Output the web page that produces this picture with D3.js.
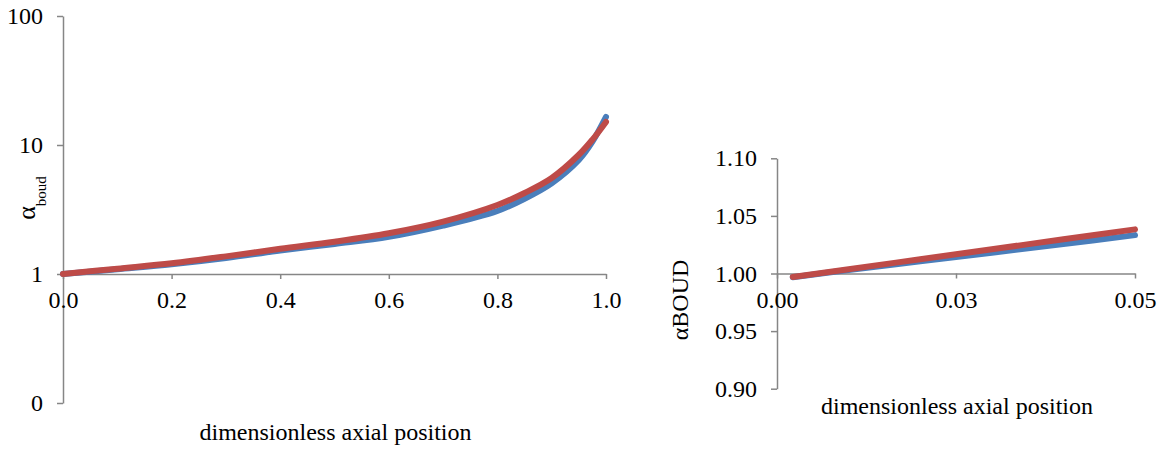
<!DOCTYPE html>
<html>
<head>
<meta charset="utf-8">
<script src="https://cdn.jsdelivr.net/npm/d3@7"></script>
<style>
  html, body { margin: 0; padding: 0; background: #fff; }
  svg { display: block; }
  text { font-family: "Liberation Serif", "Times New Roman", serif; fill: #000; }
</style>
</head>
<body>
<svg id="chart" width="1165" height="450"></svg>
<script>
// ---- full profile (log scale) ----
const fullX = [0, 0.1, 0.2, 0.3, 0.4, 0.5, 0.6, 0.7, 0.8, 0.85, 0.9, 0.95, 0.975, 1.0];
const fullBlue = [1.0, 1.09, 1.19, 1.33, 1.52, 1.71, 1.94, 2.37, 3.08, 3.83, 5.05, 7.65, 10.6, 16.5];
const fullRed  = [1.0, 1.10, 1.21, 1.37, 1.57, 1.78, 2.07, 2.55, 3.43, 4.25, 5.55, 8.4, 11.0, 15.1];
const fullXTicks = [0, 0.2, 0.4, 0.6, 0.8, 1.0];
const fullXTickLabels = ["0.0", "0.2", "0.4", "0.6", "0.8", "1.0"];
const fullYTicks = [0.1, 1, 10, 100];
const fullYTickLabels = ["0", "1", "10", "100"];

// ---- entrance region (linear scale) ----
const nearX = [0.0022, 0.01, 0.02, 0.03, 0.04, 0.05];
const nearBlue = [0.9968, 1.0030, 1.0106, 1.0180, 1.0256, 1.0333];
const nearRed  = [0.9970, 1.0037, 1.0124, 1.0210, 1.0297, 1.0383];
const nearXTicks = [0, 0.025, 0.05];
const nearXTickLabels = ["0.00", "0.03", "0.05"];
const nearYTicks = [0.90, 0.95, 1.00, 1.05, 1.10];
const nearYTickLabels = ["0.90", "0.95", "1.00", "1.05", "1.10"];

const axisColor = "#868686";
const blue = "#4A7EBB";
const red = "#BE4B48";
const lineW = 6;
const fontPx = 24;

const svg = d3.select("#chart");

function styleAxis(g) {
  g.select(".domain").attr("stroke", axisColor).attr("stroke-width", 1.5);
  g.selectAll(".tick line").attr("stroke", axisColor).attr("stroke-width", 1.5);
  g.selectAll(".tick text").style("font-size", fontPx + "px")
    .style("font-family", '"Liberation Serif", "Times New Roman", serif');
}

function drawSeries(g, xs, ys, xScale, yScale, color) {
  const pts = xs.map((x, i) => [x, ys[i]]);
  g.append("path")
    .datum(pts)
    .attr("fill", "none")
    .attr("stroke", color)
    .attr("stroke-width", lineW)
    .attr("stroke-linecap", "round")
    .attr("stroke-linejoin", "round")
    .attr("d", d3.line()
      .x(d => xScale(d[0]))
      .y(d => yScale(d[1]))
      .curve(d3.curveCatmullRom.alpha(0.5)));
}

// ================= left chart =================
{
  const x = d3.scaleLinear().domain([0, 1]).range([63, 606]);
  const y = d3.scaleLog().domain([0.1, 100]).range([403, 16]);
  const g = svg.append("g");

  const yAxis = d3.axisLeft(y)
    .tickValues(fullYTicks)
    .tickFormat((d, i) => fullYTickLabels[i])
    .tickSize(6).tickSizeOuter(0).tickPadding(14);
  g.append("g").attr("transform", `translate(${x(0)},0)`).call(yAxis).call(styleAxis);

  const xAxis = d3.axisBottom(x)
    .tickValues(fullXTicks)
    .tickFormat((d, i) => fullXTickLabels[i])
    .tickSize(5).tickSizeOuter(0).tickPadding(12);
  g.append("g").attr("transform", `translate(0,${y(1)})`).call(xAxis).call(styleAxis);

  drawSeries(g, fullX, fullBlue, x, y, blue);
  drawSeries(g, fullX, fullRed, x, y, red);

  g.append("text")
    .attr("x", (x(0) + x(1)) / 2 + 1).attr("y", 440)
    .attr("text-anchor", "middle")
    .style("font-size", fontPx + "px")
    .text("dimensionless axial position");

  const yt = g.append("text")
    .attr("transform", "translate(35,198) rotate(-90)")
    .attr("text-anchor", "middle")
    .style("font-size", "26px");
  yt.append("tspan").text("α");
  yt.append("tspan").attr("dy", 11).style("font-size", "15px").text("boud");
}

// ================= right chart =================
{
  const x = d3.scaleLinear().domain([0, 0.05]).range([777, 1135]);
  const y = d3.scaleLinear().domain([0.90, 1.10]).range([388.7, 158.3]);
  const g = svg.append("g");

  const yAxis = d3.axisLeft(y)
    .tickValues(nearYTicks)
    .tickFormat((d, i) => nearYTickLabels[i])
    .tickSize(6).tickSizeOuter(0).tickPadding(14);
  g.append("g").attr("transform", `translate(${x(0)},0)`).call(yAxis).call(styleAxis);

  const xAxis = d3.axisBottom(x)
    .tickValues(nearXTicks)
    .tickFormat((d, i) => nearXTickLabels[i])
    .tickSize(5).tickSizeOuter(0).tickPadding(12);
  g.append("g").attr("transform", `translate(0,${y(1.0)})`).call(xAxis).call(styleAxis);

  drawSeries(g, nearX, nearBlue, x, y, blue);
  drawSeries(g, nearX, nearRed, x, y, red);

  g.append("text")
    .attr("x", 957).attr("y", 414)
    .attr("text-anchor", "middle")
    .style("font-size", fontPx + "px")
    .text("dimensionless axial position");

  g.append("text")
    .attr("transform", "translate(688,300) rotate(-90)")
    .attr("text-anchor", "middle")
    .style("font-size", fontPx + "px")
    .text("αBOUD");
}
</script>
</body>
</html>
